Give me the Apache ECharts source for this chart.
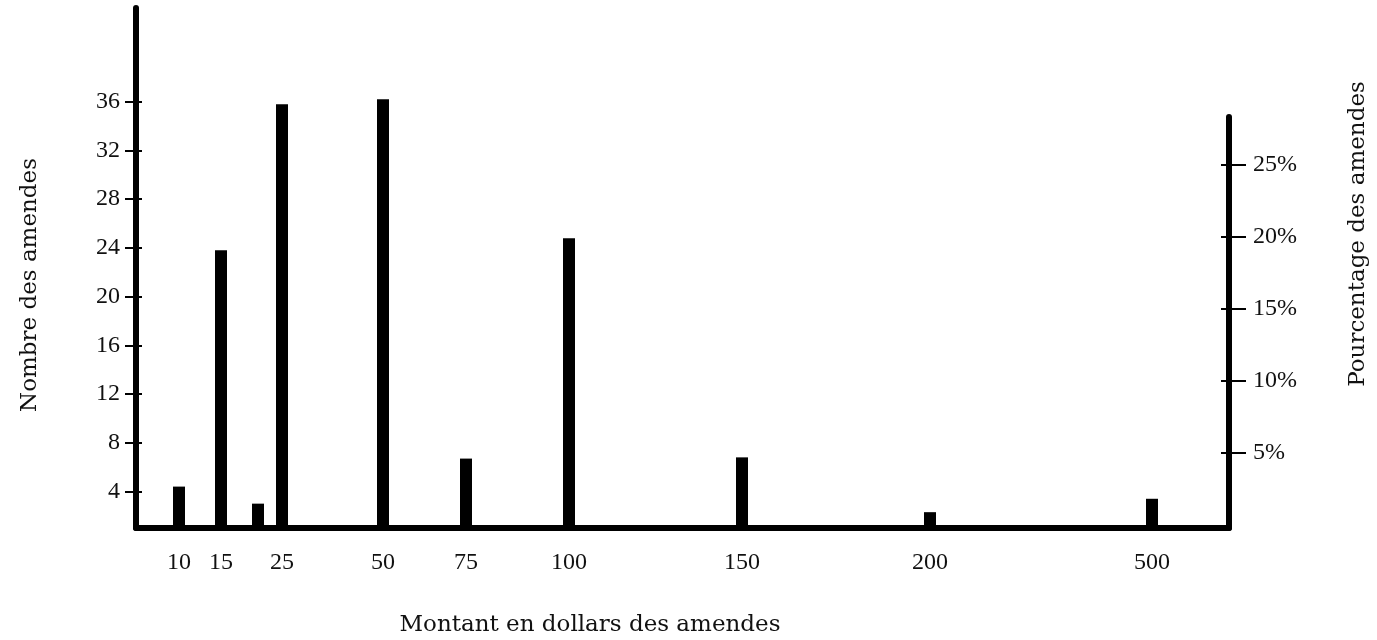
<!DOCTYPE html>
<html>
<head>
<meta charset="utf-8">
<script src="https://cdn.jsdelivr.net/npm/echarts@6/dist/echarts.min.js"></script>
<style>
	html, body { margin: 0; padding: 0; background: #fff; }
	#chart { width: 1377px; height: 640px; }
</style>
</head>
<body>
<div id="chart"></div>
<script>
// montants des amendes (le 20 n'a pas d'étiquette sur l'original)
const amounts = ['10', '15', '20', '25', '50', '75', '100', '150', '200', '500']
const amountLabels = ['10', '15', '', '25', '50', '75', '100', '150', '200', '500']
// position de chaque barre sur l'axe dessiné (échelle non régulière de l'original)
const slotPos = [4.3, 8.5, 12.2, 14.6, 24.7, 33.0, 43.3, 60.6, 79.4, 101.6]
// nombre des amendes
const counts = [4.4, 23.8, 3.0, 35.8, 36.2, 6.7, 24.8, 6.8, 2.3, 3.4]
const countTicks = [4, 8, 12, 16, 20, 24, 28, 32, 36]
const pctTicks = [5, 10, 15, 20, 25]

const serif = 'Liberation Serif'
const wide = 'DejaVu Serif'

const chart = echarts.init(document.getElementById('chart'))

const labelOf = {}
slotPos.forEach((p, i) => { labelOf[p] = amountLabels[i] })

function titleText(text, x, y, rotation) {
	return {
		type: 'text',
		x: x,
		y: y,
		rotation: rotation,
		style: {
			text: text,
			align: 'center',
			verticalAlign: 'middle',
			fontFamily: wide,
			fontSize: 23,
			fill: '#111'
		}
	}
}

const option = {
	animation: false,
	grid: [
		{ left: 136, right: 148, top: 8, bottom: 112 },
		{ left: 136, right: 148, top: 117, bottom: 112 }
	],
	xAxis: [
		{
			type: 'value',
			gridIndex: 0,
			min: 0,
			max: 109.3,
			splitLine: { show: false },
			axisLine: { onZero: false, lineStyle: { color: '#000', width: 6 } },
			axisTick: { show: false },
			axisLabel: {
				customValues: slotPos.filter((p, i) => amountLabels[i] !== ''),
				formatter: v => labelOf[v] || '',
				margin: 23,
				fontFamily: serif,
				fontSize: 24,
				color: '#111'
			}
		},
		{
			type: 'value',
			gridIndex: 1,
			min: 0,
			max: 109.3,
			show: false
		}
	],
	yAxis: [
		{
			type: 'value',
			gridIndex: 0,
			position: 'left',
			min: 1,
			max: 43.7,
			splitLine: { show: false },
			axisLine: { show: true, onZero: false, lineStyle: { color: '#000', width: 6 } },
			axisTick: { show: true, customValues: countTicks, length: 11, lineStyle: { color: '#000', width: 2 } },
			axisLabel: { customValues: countTicks, margin: 16, fontFamily: serif, fontSize: 24, color: '#111' }
		},
		{
			type: 'value',
			gridIndex: 1,
			position: 'right',
			min: -0.2,
			max: 28.3,
			splitLine: { show: false },
			axisLine: { show: true, onZero: false, lineStyle: { color: '#000', width: 6 } },
			axisTick: { show: true, customValues: pctTicks, length: 17, lineStyle: { color: '#000', width: 2 } },
			axisLabel: {
				customValues: pctTicks,
				formatter: v => v + '%',
				margin: 24,
				fontFamily: serif,
				fontSize: 24,
				color: '#111'
			}
		},
		{
			// petits bouts de graduation côté intérieur (les tirets traversent l'axe)
			type: 'value',
			gridIndex: 0,
			position: 'left',
			min: 1,
			max: 43.7,
			splitLine: { show: false },
			axisLine: { show: false, onZero: false },
			axisTick: { show: true, inside: true, customValues: countTicks, length: 6, lineStyle: { color: '#000', width: 2 } },
			axisLabel: { show: false }
		},
		{
			type: 'value',
			gridIndex: 1,
			position: 'right',
			min: -0.2,
			max: 28.3,
			splitLine: { show: false },
			axisLine: { show: false, onZero: false },
			axisTick: { show: true, inside: true, customValues: pctTicks, length: 8, lineStyle: { color: '#000', width: 2 } },
			axisLabel: { show: false }
		}
	],
	graphic: [
		titleText('Montant en dollars des amendes', 590, 625, 0),
		titleText('Nombre des amendes', 30, 285, Math.PI / 2),
		titleText('Pourcentage des amendes', 1358, 234, Math.PI / 2)
	],
	series: [
		{
			type: 'bar',
			name: 'Nombre des amendes',
			xAxisIndex: 0,
			yAxisIndex: 0,
			barWidth: 12,
			itemStyle: { color: '#000' },
			data: slotPos.map((p, i) => [p, counts[i]])
		}
	]
}

chart.setOption(option)
</script>
</body>
</html>
